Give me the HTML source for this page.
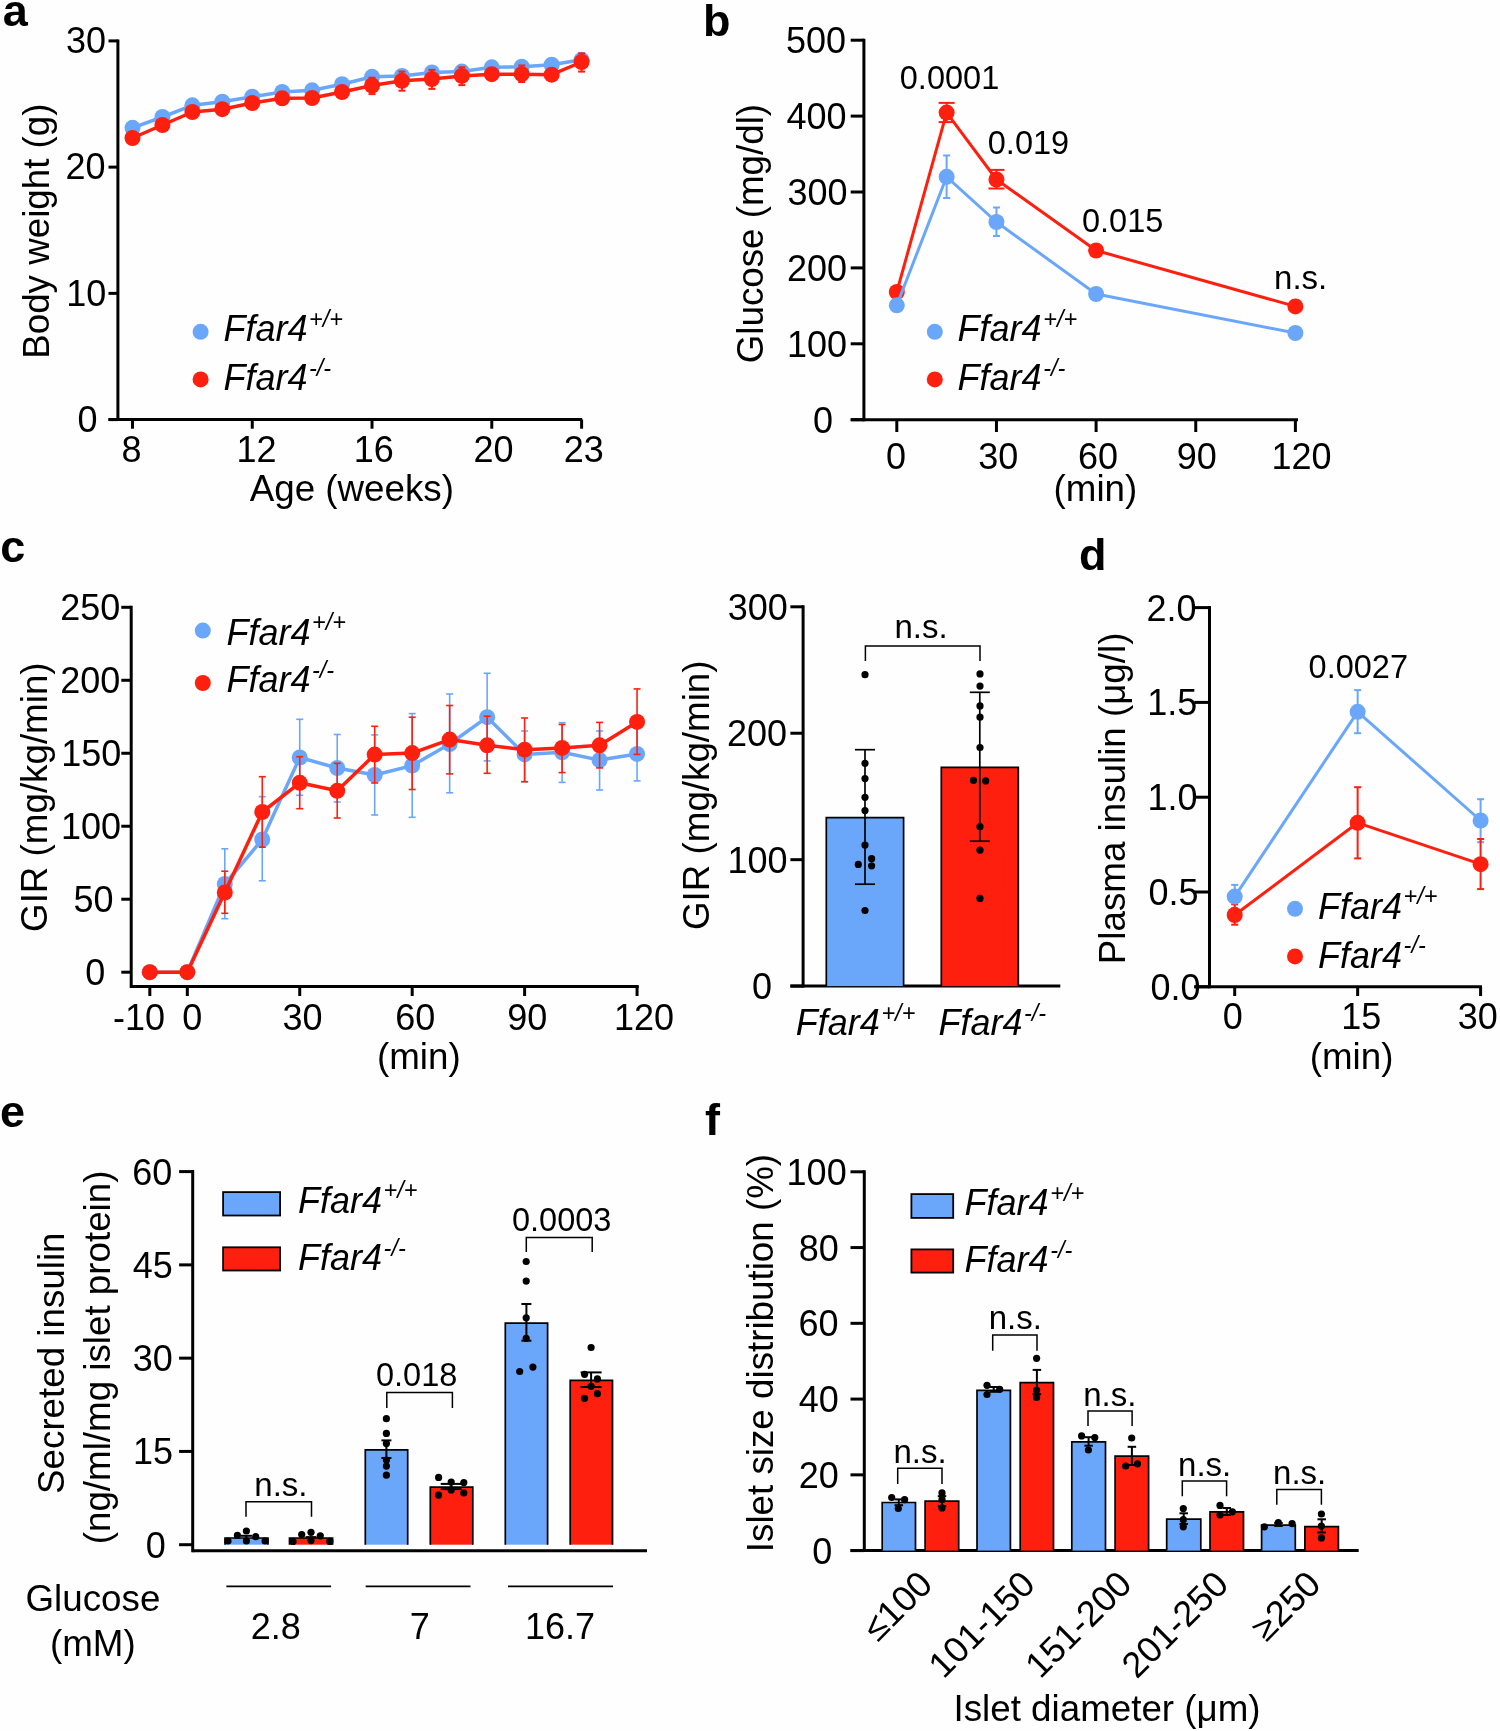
<!DOCTYPE html>
<html><head><meta charset="utf-8"><style>
html,body{margin:0;padding:0;background:#fff;}
svg{display:block;will-change:transform;}
text{font-family:"Liberation Sans", sans-serif;fill:#000;}
</style></head><body>
<svg width="1500" height="1731" viewBox="0 0 1500 1731">
<rect x="0" y="0" width="1500" height="1731" fill="#fefefe"/>
<text x="2.80" y="25.80" font-size="45" font-weight="bold">a</text>
<line x1="117.90" y1="39.40" x2="117.90" y2="421.10" stroke="#000" stroke-width="3"/>
<line x1="108.50" y1="419.60" x2="582.20" y2="419.60" stroke="#000" stroke-width="3"/>
<line x1="108.50" y1="419.60" x2="117.90" y2="419.60" stroke="#000" stroke-width="3"/>
<text x="77.40" y="431.80" font-size="36">0</text>
<line x1="108.50" y1="293.37" x2="117.90" y2="293.37" stroke="#000" stroke-width="3"/>
<text x="66.30" y="305.57" font-size="36">10</text>
<line x1="108.50" y1="167.13" x2="117.90" y2="167.13" stroke="#000" stroke-width="3"/>
<text x="65.40" y="179.33" font-size="36">20</text>
<line x1="108.50" y1="40.90" x2="117.90" y2="40.90" stroke="#000" stroke-width="3"/>
<text x="66.10" y="53.10" font-size="36">30</text>
<line x1="132.50" y1="419.60" x2="132.50" y2="428.70" stroke="#000" stroke-width="3"/>
<text x="121.40" y="462.30" font-size="36">8</text>
<line x1="252.26" y1="419.60" x2="252.26" y2="428.70" stroke="#000" stroke-width="3"/>
<text x="236.40" y="462.30" font-size="36">12</text>
<line x1="372.02" y1="419.60" x2="372.02" y2="428.70" stroke="#000" stroke-width="3"/>
<text x="353.80" y="462.30" font-size="36">16</text>
<line x1="491.78" y1="419.60" x2="491.78" y2="428.70" stroke="#000" stroke-width="3"/>
<text x="473.50" y="462.30" font-size="36">20</text>
<line x1="581.60" y1="419.60" x2="581.60" y2="428.70" stroke="#000" stroke-width="3"/>
<text x="563.80" y="462.30" font-size="36">23</text>
<text x="249.70" y="501.30" font-size="36.75">Age (weeks)</text>
<text x="0" y="0" font-size="36.75" transform="translate(48.50,358.80) rotate(-90)">Body weight (g)</text>
<polyline points="132.50,127.80 162.44,117.00 192.38,105.30 222.32,101.70 252.26,96.70 282.20,92.00 312.14,90.30 342.08,84.20 372.02,76.80 401.96,75.90 431.90,72.50 461.84,71.60 491.78,67.30 521.72,66.70 551.66,64.70 581.60,59.80" fill="none" stroke="#6aa7fa" stroke-width="3.5" stroke-linejoin="round"/>
<circle cx="132.50" cy="127.80" r="8" fill="#6aa7fa"/>
<circle cx="162.44" cy="117.00" r="8" fill="#6aa7fa"/>
<circle cx="192.38" cy="105.30" r="8" fill="#6aa7fa"/>
<circle cx="222.32" cy="101.70" r="8" fill="#6aa7fa"/>
<circle cx="252.26" cy="96.70" r="8" fill="#6aa7fa"/>
<circle cx="282.20" cy="92.00" r="8" fill="#6aa7fa"/>
<circle cx="312.14" cy="90.30" r="8" fill="#6aa7fa"/>
<circle cx="342.08" cy="84.20" r="8" fill="#6aa7fa"/>
<circle cx="372.02" cy="76.80" r="8" fill="#6aa7fa"/>
<circle cx="401.96" cy="75.90" r="8" fill="#6aa7fa"/>
<circle cx="431.90" cy="72.50" r="8" fill="#6aa7fa"/>
<circle cx="461.84" cy="71.60" r="8" fill="#6aa7fa"/>
<circle cx="491.78" cy="67.30" r="8" fill="#6aa7fa"/>
<circle cx="521.72" cy="66.70" r="8" fill="#6aa7fa"/>
<circle cx="551.66" cy="64.70" r="8" fill="#6aa7fa"/>
<circle cx="581.60" cy="59.80" r="8" fill="#6aa7fa"/>
<line x1="372.02" y1="77.70" x2="372.02" y2="94.10" stroke="#fe1f0f" stroke-width="2"/>
<line x1="368.52" y1="77.70" x2="375.52" y2="77.70" stroke="#fe1f0f" stroke-width="2"/>
<line x1="368.52" y1="94.10" x2="375.52" y2="94.10" stroke="#fe1f0f" stroke-width="2"/>
<line x1="401.96" y1="71.60" x2="401.96" y2="90.70" stroke="#fe1f0f" stroke-width="2"/>
<line x1="398.46" y1="71.60" x2="405.46" y2="71.60" stroke="#fe1f0f" stroke-width="2"/>
<line x1="398.46" y1="90.70" x2="405.46" y2="90.70" stroke="#fe1f0f" stroke-width="2"/>
<line x1="431.90" y1="69.90" x2="431.90" y2="88.90" stroke="#fe1f0f" stroke-width="2"/>
<line x1="428.40" y1="69.90" x2="435.40" y2="69.90" stroke="#fe1f0f" stroke-width="2"/>
<line x1="428.40" y1="88.90" x2="435.40" y2="88.90" stroke="#fe1f0f" stroke-width="2"/>
<line x1="461.84" y1="67.30" x2="461.84" y2="85.10" stroke="#fe1f0f" stroke-width="2"/>
<line x1="458.34" y1="67.30" x2="465.34" y2="67.30" stroke="#fe1f0f" stroke-width="2"/>
<line x1="458.34" y1="85.10" x2="465.34" y2="85.10" stroke="#fe1f0f" stroke-width="2"/>
<line x1="521.72" y1="65.50" x2="521.72" y2="82.00" stroke="#fe1f0f" stroke-width="2"/>
<line x1="518.22" y1="65.50" x2="525.22" y2="65.50" stroke="#fe1f0f" stroke-width="2"/>
<line x1="518.22" y1="82.00" x2="525.22" y2="82.00" stroke="#fe1f0f" stroke-width="2"/>
<line x1="581.60" y1="53.40" x2="581.60" y2="71.60" stroke="#fe1f0f" stroke-width="2"/>
<line x1="578.10" y1="53.40" x2="585.10" y2="53.40" stroke="#fe1f0f" stroke-width="2"/>
<line x1="578.10" y1="71.60" x2="585.10" y2="71.60" stroke="#fe1f0f" stroke-width="2"/>
<polyline points="132.50,138.00 162.44,125.00 192.38,112.00 222.32,109.20 252.26,103.00 282.20,98.30 312.14,98.00 342.08,92.00 372.02,85.50 401.96,80.80 431.90,79.00 461.84,75.90 491.78,74.20 521.72,74.20 551.66,74.70 581.60,62.00" fill="none" stroke="#fe1f0f" stroke-width="3.5" stroke-linejoin="round"/>
<circle cx="132.50" cy="138.00" r="8" fill="#fe1f0f"/>
<circle cx="162.44" cy="125.00" r="8" fill="#fe1f0f"/>
<circle cx="192.38" cy="112.00" r="8" fill="#fe1f0f"/>
<circle cx="222.32" cy="109.20" r="8" fill="#fe1f0f"/>
<circle cx="252.26" cy="103.00" r="8" fill="#fe1f0f"/>
<circle cx="282.20" cy="98.30" r="8" fill="#fe1f0f"/>
<circle cx="312.14" cy="98.00" r="8" fill="#fe1f0f"/>
<circle cx="342.08" cy="92.00" r="8" fill="#fe1f0f"/>
<circle cx="372.02" cy="85.50" r="8" fill="#fe1f0f"/>
<circle cx="401.96" cy="80.80" r="8" fill="#fe1f0f"/>
<circle cx="431.90" cy="79.00" r="8" fill="#fe1f0f"/>
<circle cx="461.84" cy="75.90" r="8" fill="#fe1f0f"/>
<circle cx="491.78" cy="74.20" r="8" fill="#fe1f0f"/>
<circle cx="521.72" cy="74.20" r="8" fill="#fe1f0f"/>
<circle cx="551.66" cy="74.70" r="8" fill="#fe1f0f"/>
<circle cx="581.60" cy="62.00" r="8" fill="#fe1f0f"/>
<circle cx="200.60" cy="331.80" r="8" fill="#6aa7fa"/>
<circle cx="200.60" cy="379.40" r="8" fill="#fe1f0f"/>
<text x="223.40" y="341.40" font-size="36" font-style="italic">Ffar4</text>
<text x="309.00" y="327.00" font-size="23.5" font-style="italic">+/+</text>
<text x="223.40" y="390.10" font-size="36" font-style="italic">Ffar4</text>
<text x="309.00" y="375.70" font-size="23.5" font-style="italic">-/-</text>
<text x="703.00" y="36.00" font-size="45" font-weight="bold">b</text>
<line x1="863.90" y1="38.70" x2="863.90" y2="421.20" stroke="#000" stroke-width="3"/>
<line x1="850.70" y1="419.70" x2="1298.00" y2="419.70" stroke="#000" stroke-width="3"/>
<line x1="850.70" y1="419.70" x2="863.90" y2="419.70" stroke="#000" stroke-width="3"/>
<text x="812.90" y="432.70" font-size="36">0</text>
<line x1="850.70" y1="343.80" x2="863.90" y2="343.80" stroke="#000" stroke-width="3"/>
<text x="787.00" y="356.80" font-size="36">100</text>
<line x1="850.70" y1="267.90" x2="863.90" y2="267.90" stroke="#000" stroke-width="3"/>
<text x="787.00" y="280.90" font-size="36">200</text>
<line x1="850.70" y1="192.00" x2="863.90" y2="192.00" stroke="#000" stroke-width="3"/>
<text x="787.50" y="205.00" font-size="36">300</text>
<line x1="850.70" y1="116.10" x2="863.90" y2="116.10" stroke="#000" stroke-width="3"/>
<text x="786.50" y="129.10" font-size="36">400</text>
<line x1="850.70" y1="40.20" x2="863.90" y2="40.20" stroke="#000" stroke-width="3"/>
<text x="786.00" y="53.20" font-size="36">500</text>
<line x1="896.80" y1="419.70" x2="896.80" y2="432.00" stroke="#000" stroke-width="3"/>
<text x="886.00" y="469.00" font-size="36">0</text>
<line x1="996.45" y1="419.70" x2="996.45" y2="432.00" stroke="#000" stroke-width="3"/>
<text x="978.20" y="469.00" font-size="36">30</text>
<line x1="1096.10" y1="419.70" x2="1096.10" y2="432.00" stroke="#000" stroke-width="3"/>
<text x="1078.00" y="469.00" font-size="36">60</text>
<line x1="1195.75" y1="419.70" x2="1195.75" y2="432.00" stroke="#000" stroke-width="3"/>
<text x="1176.70" y="469.00" font-size="36">90</text>
<line x1="1295.40" y1="419.70" x2="1295.40" y2="432.00" stroke="#000" stroke-width="3"/>
<text x="1271.40" y="469.00" font-size="36">120</text>
<text x="1053.60" y="501.30" font-size="36.75">(min)</text>
<text x="0" y="0" font-size="36.75" transform="translate(763.30,363.30) rotate(-90)">Glucose (mg/dl)</text>
<line x1="946.63" y1="155.50" x2="946.63" y2="198.00" stroke="#6aa7fa" stroke-width="2"/>
<line x1="943.13" y1="155.50" x2="950.13" y2="155.50" stroke="#6aa7fa" stroke-width="2"/>
<line x1="943.13" y1="198.00" x2="950.13" y2="198.00" stroke="#6aa7fa" stroke-width="2"/>
<line x1="996.45" y1="207.50" x2="996.45" y2="236.00" stroke="#6aa7fa" stroke-width="2"/>
<line x1="992.95" y1="207.50" x2="999.95" y2="207.50" stroke="#6aa7fa" stroke-width="2"/>
<line x1="992.95" y1="236.00" x2="999.95" y2="236.00" stroke="#6aa7fa" stroke-width="2"/>
<line x1="946.63" y1="102.90" x2="946.63" y2="122.10" stroke="#fe1f0f" stroke-width="2"/>
<line x1="938.63" y1="102.90" x2="954.63" y2="102.90" stroke="#fe1f0f" stroke-width="2"/>
<line x1="938.63" y1="122.10" x2="954.63" y2="122.10" stroke="#fe1f0f" stroke-width="2"/>
<line x1="996.45" y1="169.90" x2="996.45" y2="188.50" stroke="#fe1f0f" stroke-width="2"/>
<line x1="988.45" y1="169.90" x2="1004.45" y2="169.90" stroke="#fe1f0f" stroke-width="2"/>
<line x1="988.45" y1="188.50" x2="1004.45" y2="188.50" stroke="#fe1f0f" stroke-width="2"/>
<polyline points="896.80,292.00 946.63,112.60 996.45,179.50 1096.10,250.50 1295.40,306.40" fill="none" stroke="#fe1f0f" stroke-width="3" stroke-linejoin="round"/>
<circle cx="896.80" cy="292.00" r="8" fill="#fe1f0f"/>
<circle cx="946.63" cy="112.60" r="8" fill="#fe1f0f"/>
<circle cx="996.45" cy="179.50" r="8" fill="#fe1f0f"/>
<circle cx="1096.10" cy="250.50" r="8" fill="#fe1f0f"/>
<circle cx="1295.40" cy="306.40" r="8" fill="#fe1f0f"/>
<polyline points="896.80,305.30 946.63,176.80 996.45,222.00 1096.10,294.00 1295.40,333.00" fill="none" stroke="#6aa7fa" stroke-width="3" stroke-linejoin="round"/>
<circle cx="896.80" cy="305.30" r="8" fill="#6aa7fa"/>
<circle cx="946.63" cy="176.80" r="8" fill="#6aa7fa"/>
<circle cx="996.45" cy="222.00" r="8" fill="#6aa7fa"/>
<circle cx="1096.10" cy="294.00" r="8" fill="#6aa7fa"/>
<circle cx="1295.40" cy="333.00" r="8" fill="#6aa7fa"/>
<text x="899.80" y="89.20" font-size="32.5">0.0001</text>
<text x="987.80" y="154.40" font-size="32.5">0.019</text>
<text x="1082.00" y="232.40" font-size="32.5">0.015</text>
<text x="1274.10" y="288.60" font-size="33">n.s.</text>
<circle cx="934.80" cy="331.80" r="8" fill="#6aa7fa"/>
<circle cx="934.80" cy="379.40" r="8" fill="#fe1f0f"/>
<text x="957.60" y="341.40" font-size="36" font-style="italic">Ffar4</text>
<text x="1043.20" y="327.00" font-size="23.5" font-style="italic">+/+</text>
<text x="957.60" y="390.20" font-size="36" font-style="italic">Ffar4</text>
<text x="1043.20" y="375.80" font-size="23.5" font-style="italic">-/-</text>
<text x="0.20" y="562.20" font-size="45" font-weight="bold">c</text>
<line x1="131.20" y1="605.80" x2="131.20" y2="988.00" stroke="#000" stroke-width="3"/>
<line x1="131.20" y1="986.50" x2="638.70" y2="986.50" stroke="#000" stroke-width="3"/>
<line x1="121.30" y1="972.20" x2="131.20" y2="972.20" stroke="#000" stroke-width="3"/>
<text x="85.35" y="985.20" font-size="36">0</text>
<line x1="121.30" y1="899.22" x2="131.20" y2="899.22" stroke="#000" stroke-width="3"/>
<text x="73.40" y="912.22" font-size="36">50</text>
<line x1="121.30" y1="826.24" x2="131.20" y2="826.24" stroke="#000" stroke-width="3"/>
<text x="60.90" y="839.24" font-size="36">100</text>
<line x1="121.30" y1="753.26" x2="131.20" y2="753.26" stroke="#000" stroke-width="3"/>
<text x="61.20" y="766.26" font-size="36">150</text>
<line x1="121.30" y1="680.28" x2="131.20" y2="680.28" stroke="#000" stroke-width="3"/>
<text x="60.25" y="693.28" font-size="36">200</text>
<line x1="121.30" y1="607.30" x2="131.20" y2="607.30" stroke="#000" stroke-width="3"/>
<text x="60.25" y="620.30" font-size="36">250</text>
<line x1="149.82" y1="986.50" x2="149.82" y2="996.00" stroke="#000" stroke-width="3"/>
<text x="113.10" y="1029.90" font-size="36">-10</text>
<line x1="187.30" y1="986.50" x2="187.30" y2="996.00" stroke="#000" stroke-width="3"/>
<text x="182.30" y="1029.90" font-size="36">0</text>
<line x1="299.74" y1="986.50" x2="299.74" y2="996.00" stroke="#000" stroke-width="3"/>
<text x="282.40" y="1029.90" font-size="36">30</text>
<line x1="412.18" y1="986.50" x2="412.18" y2="996.00" stroke="#000" stroke-width="3"/>
<text x="395.30" y="1029.90" font-size="36">60</text>
<line x1="524.62" y1="986.50" x2="524.62" y2="996.00" stroke="#000" stroke-width="3"/>
<text x="507.20" y="1029.90" font-size="36">90</text>
<line x1="637.06" y1="986.50" x2="637.06" y2="996.00" stroke="#000" stroke-width="3"/>
<text x="614.00" y="1029.90" font-size="36">120</text>
<text x="377.00" y="1068.70" font-size="36.75">(min)</text>
<text x="0" y="0" font-size="36.75" transform="translate(47.20,931.95) rotate(-90)">GIR (mg/kg/min)</text>
<line x1="224.78" y1="848.80" x2="224.78" y2="918.70" stroke="#6aa7fa" stroke-width="1.6"/>
<line x1="221.28" y1="848.80" x2="228.28" y2="848.80" stroke="#6aa7fa" stroke-width="1.6"/>
<line x1="221.28" y1="918.70" x2="228.28" y2="918.70" stroke="#6aa7fa" stroke-width="1.6"/>
<line x1="262.26" y1="796.70" x2="262.26" y2="880.80" stroke="#6aa7fa" stroke-width="1.6"/>
<line x1="258.76" y1="796.70" x2="265.76" y2="796.70" stroke="#6aa7fa" stroke-width="1.6"/>
<line x1="258.76" y1="880.80" x2="265.76" y2="880.80" stroke="#6aa7fa" stroke-width="1.6"/>
<line x1="299.74" y1="719.30" x2="299.74" y2="795.30" stroke="#6aa7fa" stroke-width="1.6"/>
<line x1="296.24" y1="719.30" x2="303.24" y2="719.30" stroke="#6aa7fa" stroke-width="1.6"/>
<line x1="296.24" y1="795.30" x2="303.24" y2="795.30" stroke="#6aa7fa" stroke-width="1.6"/>
<line x1="337.22" y1="734.50" x2="337.22" y2="802.00" stroke="#6aa7fa" stroke-width="1.6"/>
<line x1="333.72" y1="734.50" x2="340.72" y2="734.50" stroke="#6aa7fa" stroke-width="1.6"/>
<line x1="333.72" y1="802.00" x2="340.72" y2="802.00" stroke="#6aa7fa" stroke-width="1.6"/>
<line x1="374.70" y1="734.90" x2="374.70" y2="815.00" stroke="#6aa7fa" stroke-width="1.6"/>
<line x1="371.20" y1="734.90" x2="378.20" y2="734.90" stroke="#6aa7fa" stroke-width="1.6"/>
<line x1="371.20" y1="815.00" x2="378.20" y2="815.00" stroke="#6aa7fa" stroke-width="1.6"/>
<line x1="412.18" y1="713.60" x2="412.18" y2="817.30" stroke="#6aa7fa" stroke-width="1.6"/>
<line x1="408.68" y1="713.60" x2="415.68" y2="713.60" stroke="#6aa7fa" stroke-width="1.6"/>
<line x1="408.68" y1="817.30" x2="415.68" y2="817.30" stroke="#6aa7fa" stroke-width="1.6"/>
<line x1="449.66" y1="694.00" x2="449.66" y2="792.80" stroke="#6aa7fa" stroke-width="1.6"/>
<line x1="446.16" y1="694.00" x2="453.16" y2="694.00" stroke="#6aa7fa" stroke-width="1.6"/>
<line x1="446.16" y1="792.80" x2="453.16" y2="792.80" stroke="#6aa7fa" stroke-width="1.6"/>
<line x1="487.14" y1="673.30" x2="487.14" y2="760.90" stroke="#6aa7fa" stroke-width="1.6"/>
<line x1="483.64" y1="673.30" x2="490.64" y2="673.30" stroke="#6aa7fa" stroke-width="1.6"/>
<line x1="483.64" y1="760.90" x2="490.64" y2="760.90" stroke="#6aa7fa" stroke-width="1.6"/>
<line x1="524.62" y1="731.00" x2="524.62" y2="781.70" stroke="#6aa7fa" stroke-width="1.6"/>
<line x1="521.12" y1="731.00" x2="528.12" y2="731.00" stroke="#6aa7fa" stroke-width="1.6"/>
<line x1="521.12" y1="781.70" x2="528.12" y2="781.70" stroke="#6aa7fa" stroke-width="1.6"/>
<line x1="562.10" y1="722.70" x2="562.10" y2="782.40" stroke="#6aa7fa" stroke-width="1.6"/>
<line x1="558.60" y1="722.70" x2="565.60" y2="722.70" stroke="#6aa7fa" stroke-width="1.6"/>
<line x1="558.60" y1="782.40" x2="565.60" y2="782.40" stroke="#6aa7fa" stroke-width="1.6"/>
<line x1="599.58" y1="731.00" x2="599.58" y2="790.00" stroke="#6aa7fa" stroke-width="1.6"/>
<line x1="596.08" y1="731.00" x2="603.08" y2="731.00" stroke="#6aa7fa" stroke-width="1.6"/>
<line x1="596.08" y1="790.00" x2="603.08" y2="790.00" stroke="#6aa7fa" stroke-width="1.6"/>
<line x1="637.06" y1="727.00" x2="637.06" y2="780.90" stroke="#6aa7fa" stroke-width="1.6"/>
<line x1="633.56" y1="727.00" x2="640.56" y2="727.00" stroke="#6aa7fa" stroke-width="1.6"/>
<line x1="633.56" y1="780.90" x2="640.56" y2="780.90" stroke="#6aa7fa" stroke-width="1.6"/>
<polyline points="149.82,972.20 187.30,972.20 224.78,884.00 262.26,839.50 299.74,757.50 337.22,768.00 374.70,775.00 412.18,765.60 449.66,744.00 487.14,717.20 524.62,754.40 562.10,752.30 599.58,760.10 637.06,753.90" fill="none" stroke="#6aa7fa" stroke-width="3.5" stroke-linejoin="round"/>
<circle cx="149.82" cy="972.20" r="8" fill="#6aa7fa"/>
<circle cx="187.30" cy="972.20" r="8" fill="#6aa7fa"/>
<circle cx="224.78" cy="884.00" r="8" fill="#6aa7fa"/>
<circle cx="262.26" cy="839.50" r="8" fill="#6aa7fa"/>
<circle cx="299.74" cy="757.50" r="8" fill="#6aa7fa"/>
<circle cx="337.22" cy="768.00" r="8" fill="#6aa7fa"/>
<circle cx="374.70" cy="775.00" r="8" fill="#6aa7fa"/>
<circle cx="412.18" cy="765.60" r="8" fill="#6aa7fa"/>
<circle cx="449.66" cy="744.00" r="8" fill="#6aa7fa"/>
<circle cx="487.14" cy="717.20" r="8" fill="#6aa7fa"/>
<circle cx="524.62" cy="754.40" r="8" fill="#6aa7fa"/>
<circle cx="562.10" cy="752.30" r="8" fill="#6aa7fa"/>
<circle cx="599.58" cy="760.10" r="8" fill="#6aa7fa"/>
<circle cx="637.06" cy="753.90" r="8" fill="#6aa7fa"/>
<line x1="224.78" y1="871.20" x2="224.78" y2="913.30" stroke="#fe1f0f" stroke-width="1.6"/>
<line x1="221.28" y1="871.20" x2="228.28" y2="871.20" stroke="#fe1f0f" stroke-width="1.6"/>
<line x1="221.28" y1="913.30" x2="228.28" y2="913.30" stroke="#fe1f0f" stroke-width="1.6"/>
<line x1="262.26" y1="776.70" x2="262.26" y2="847.20" stroke="#fe1f0f" stroke-width="1.6"/>
<line x1="258.76" y1="776.70" x2="265.76" y2="776.70" stroke="#fe1f0f" stroke-width="1.6"/>
<line x1="258.76" y1="847.20" x2="265.76" y2="847.20" stroke="#fe1f0f" stroke-width="1.6"/>
<line x1="299.74" y1="756.70" x2="299.74" y2="808.70" stroke="#fe1f0f" stroke-width="1.6"/>
<line x1="296.24" y1="756.70" x2="303.24" y2="756.70" stroke="#fe1f0f" stroke-width="1.6"/>
<line x1="296.24" y1="808.70" x2="303.24" y2="808.70" stroke="#fe1f0f" stroke-width="1.6"/>
<line x1="337.22" y1="763.30" x2="337.22" y2="818.00" stroke="#fe1f0f" stroke-width="1.6"/>
<line x1="333.72" y1="763.30" x2="340.72" y2="763.30" stroke="#fe1f0f" stroke-width="1.6"/>
<line x1="333.72" y1="818.00" x2="340.72" y2="818.00" stroke="#fe1f0f" stroke-width="1.6"/>
<line x1="374.70" y1="726.30" x2="374.70" y2="783.00" stroke="#fe1f0f" stroke-width="1.6"/>
<line x1="371.20" y1="726.30" x2="378.20" y2="726.30" stroke="#fe1f0f" stroke-width="1.6"/>
<line x1="371.20" y1="783.00" x2="378.20" y2="783.00" stroke="#fe1f0f" stroke-width="1.6"/>
<line x1="412.18" y1="717.20" x2="412.18" y2="789.50" stroke="#fe1f0f" stroke-width="1.6"/>
<line x1="408.68" y1="717.20" x2="415.68" y2="717.20" stroke="#fe1f0f" stroke-width="1.6"/>
<line x1="408.68" y1="789.50" x2="415.68" y2="789.50" stroke="#fe1f0f" stroke-width="1.6"/>
<line x1="449.66" y1="705.50" x2="449.66" y2="773.90" stroke="#fe1f0f" stroke-width="1.6"/>
<line x1="446.16" y1="705.50" x2="453.16" y2="705.50" stroke="#fe1f0f" stroke-width="1.6"/>
<line x1="446.16" y1="773.90" x2="453.16" y2="773.90" stroke="#fe1f0f" stroke-width="1.6"/>
<line x1="487.14" y1="716.20" x2="487.14" y2="773.30" stroke="#fe1f0f" stroke-width="1.6"/>
<line x1="483.64" y1="716.20" x2="490.64" y2="716.20" stroke="#fe1f0f" stroke-width="1.6"/>
<line x1="483.64" y1="773.30" x2="490.64" y2="773.30" stroke="#fe1f0f" stroke-width="1.6"/>
<line x1="524.62" y1="718.00" x2="524.62" y2="781.70" stroke="#fe1f0f" stroke-width="1.6"/>
<line x1="521.12" y1="718.00" x2="528.12" y2="718.00" stroke="#fe1f0f" stroke-width="1.6"/>
<line x1="521.12" y1="781.70" x2="528.12" y2="781.70" stroke="#fe1f0f" stroke-width="1.6"/>
<line x1="562.10" y1="724.50" x2="562.10" y2="772.60" stroke="#fe1f0f" stroke-width="1.6"/>
<line x1="558.60" y1="724.50" x2="565.60" y2="724.50" stroke="#fe1f0f" stroke-width="1.6"/>
<line x1="558.60" y1="772.60" x2="565.60" y2="772.60" stroke="#fe1f0f" stroke-width="1.6"/>
<line x1="599.58" y1="722.40" x2="599.58" y2="767.90" stroke="#fe1f0f" stroke-width="1.6"/>
<line x1="596.08" y1="722.40" x2="603.08" y2="722.40" stroke="#fe1f0f" stroke-width="1.6"/>
<line x1="596.08" y1="767.90" x2="603.08" y2="767.90" stroke="#fe1f0f" stroke-width="1.6"/>
<line x1="637.06" y1="688.90" x2="637.06" y2="754.40" stroke="#fe1f0f" stroke-width="1.6"/>
<line x1="633.56" y1="688.90" x2="640.56" y2="688.90" stroke="#fe1f0f" stroke-width="1.6"/>
<line x1="633.56" y1="754.40" x2="640.56" y2="754.40" stroke="#fe1f0f" stroke-width="1.6"/>
<polyline points="149.82,972.20 187.30,972.20 224.78,892.50 262.26,812.00 299.74,782.80 337.22,790.80 374.70,754.60 412.18,753.10 449.66,739.60 487.14,745.30 524.62,749.70 562.10,747.90 599.58,745.30 637.06,721.90" fill="none" stroke="#fe1f0f" stroke-width="3.5" stroke-linejoin="round"/>
<circle cx="149.82" cy="972.20" r="8" fill="#fe1f0f"/>
<circle cx="187.30" cy="972.20" r="8" fill="#fe1f0f"/>
<circle cx="224.78" cy="892.50" r="8" fill="#fe1f0f"/>
<circle cx="262.26" cy="812.00" r="8" fill="#fe1f0f"/>
<circle cx="299.74" cy="782.80" r="8" fill="#fe1f0f"/>
<circle cx="337.22" cy="790.80" r="8" fill="#fe1f0f"/>
<circle cx="374.70" cy="754.60" r="8" fill="#fe1f0f"/>
<circle cx="412.18" cy="753.10" r="8" fill="#fe1f0f"/>
<circle cx="449.66" cy="739.60" r="8" fill="#fe1f0f"/>
<circle cx="487.14" cy="745.30" r="8" fill="#fe1f0f"/>
<circle cx="524.62" cy="749.70" r="8" fill="#fe1f0f"/>
<circle cx="562.10" cy="747.90" r="8" fill="#fe1f0f"/>
<circle cx="599.58" cy="745.30" r="8" fill="#fe1f0f"/>
<circle cx="637.06" cy="721.90" r="8" fill="#fe1f0f"/>
<circle cx="202.80" cy="630.60" r="8" fill="#6aa7fa"/>
<circle cx="202.80" cy="683.00" r="8" fill="#fe1f0f"/>
<text x="226.40" y="644.60" font-size="36" font-style="italic">Ffar4</text>
<text x="312.00" y="630.20" font-size="23.5" font-style="italic">+/+</text>
<text x="226.40" y="692.40" font-size="36" font-style="italic">Ffar4</text>
<text x="312.00" y="678.00" font-size="23.5" font-style="italic">-/-</text>
<line x1="803.10" y1="605.30" x2="803.10" y2="987.60" stroke="#000" stroke-width="3"/>
<line x1="790.40" y1="986.10" x2="1060.30" y2="986.10" stroke="#000" stroke-width="3"/>
<line x1="790.40" y1="986.10" x2="803.10" y2="986.10" stroke="#000" stroke-width="3"/>
<text x="752.10" y="999.10" font-size="36">0</text>
<line x1="790.40" y1="859.67" x2="803.10" y2="859.67" stroke="#000" stroke-width="3"/>
<text x="727.50" y="872.67" font-size="36">100</text>
<line x1="790.40" y1="733.23" x2="803.10" y2="733.23" stroke="#000" stroke-width="3"/>
<text x="726.90" y="746.23" font-size="36">200</text>
<line x1="790.40" y1="606.80" x2="803.10" y2="606.80" stroke="#000" stroke-width="3"/>
<text x="727.70" y="619.80" font-size="36">300</text>
<text x="0" y="0" font-size="36.75" transform="translate(709.30,930.00) rotate(-90)">GIR (mg/kg/min)</text>
<rect x="826.30" y="817.70" width="77.30" height="168.40" fill="#6aa7fa"/>
<polyline points="826.30,986.10 826.30,817.70 903.60,817.70 903.60,986.10" fill="none" stroke="#000" stroke-width="1.7" stroke-linejoin="miter"/>
<rect x="941.30" y="767.30" width="77.00" height="218.80" fill="#fe1f0f"/>
<polyline points="941.30,986.10 941.30,767.30 1018.30,767.30 1018.30,986.10" fill="none" stroke="#000" stroke-width="1.7" stroke-linejoin="miter"/>
<line x1="865.00" y1="749.70" x2="865.00" y2="884.20" stroke="#000" stroke-width="1.7"/>
<line x1="855.00" y1="749.70" x2="875.00" y2="749.70" stroke="#000" stroke-width="1.7"/>
<line x1="855.00" y1="884.20" x2="875.00" y2="884.20" stroke="#000" stroke-width="1.7"/>
<line x1="979.80" y1="692.30" x2="979.80" y2="841.20" stroke="#000" stroke-width="1.7"/>
<line x1="969.80" y1="692.30" x2="989.80" y2="692.30" stroke="#000" stroke-width="1.7"/>
<line x1="969.80" y1="841.20" x2="989.80" y2="841.20" stroke="#000" stroke-width="1.7"/>
<circle cx="865.00" cy="674.70" r="3.6" fill="#000"/>
<circle cx="865.00" cy="763.30" r="3.6" fill="#000"/>
<circle cx="865.00" cy="778.60" r="3.6" fill="#000"/>
<circle cx="865.00" cy="797.30" r="3.6" fill="#000"/>
<circle cx="865.00" cy="810.60" r="3.6" fill="#000"/>
<circle cx="865.00" cy="845.10" r="3.6" fill="#000"/>
<circle cx="858.30" cy="864.40" r="3.6" fill="#000"/>
<circle cx="871.60" cy="858.70" r="3.6" fill="#000"/>
<circle cx="871.60" cy="865.80" r="3.6" fill="#000"/>
<circle cx="865.00" cy="910.50" r="3.6" fill="#000"/>
<circle cx="980.00" cy="673.90" r="3.6" fill="#000"/>
<circle cx="980.00" cy="686.10" r="3.6" fill="#000"/>
<circle cx="980.00" cy="705.90" r="3.6" fill="#000"/>
<circle cx="980.00" cy="717.20" r="3.6" fill="#000"/>
<circle cx="980.00" cy="747.50" r="3.6" fill="#000"/>
<circle cx="973.50" cy="780.30" r="3.6" fill="#000"/>
<circle cx="985.70" cy="780.90" r="3.6" fill="#000"/>
<circle cx="980.00" cy="826.70" r="3.6" fill="#000"/>
<circle cx="980.00" cy="850.20" r="3.6" fill="#000"/>
<circle cx="980.00" cy="898.40" r="3.6" fill="#000"/>
<polyline points="865.40,661.10 865.40,645.90 980.00,645.90 980.00,661.10" fill="none" stroke="#000" stroke-width="1.5" stroke-linejoin="miter"/>
<text x="894.50" y="638.00" font-size="33">n.s.</text>
<text x="795.80" y="1035.00" font-size="36" font-style="italic">Ffar4</text>
<text x="881.40" y="1020.60" font-size="23.5" font-style="italic">+/+</text>
<text x="938.40" y="1035.00" font-size="36" font-style="italic">Ffar4</text>
<text x="1024.00" y="1020.60" font-size="23.5" font-style="italic">-/-</text>
<text x="1079.00" y="570.30" font-size="45" font-weight="bold">d</text>
<line x1="1209.50" y1="606.10" x2="1209.50" y2="988.30" stroke="#000" stroke-width="3"/>
<line x1="1194.30" y1="986.80" x2="1482.00" y2="986.80" stroke="#000" stroke-width="3"/>
<line x1="1194.30" y1="986.80" x2="1209.50" y2="986.80" stroke="#000" stroke-width="3"/>
<text x="1150.50" y="999.80" font-size="36">0.0</text>
<line x1="1194.30" y1="892.00" x2="1209.50" y2="892.00" stroke="#000" stroke-width="3"/>
<text x="1148.50" y="905.00" font-size="36">0.5</text>
<line x1="1194.30" y1="797.20" x2="1209.50" y2="797.20" stroke="#000" stroke-width="3"/>
<text x="1147.50" y="810.20" font-size="36">1.0</text>
<line x1="1194.30" y1="702.40" x2="1209.50" y2="702.40" stroke="#000" stroke-width="3"/>
<text x="1147.20" y="715.40" font-size="36">1.5</text>
<line x1="1194.30" y1="607.60" x2="1209.50" y2="607.60" stroke="#000" stroke-width="3"/>
<text x="1146.50" y="620.60" font-size="36">2.0</text>
<line x1="1234.70" y1="986.80" x2="1234.70" y2="996.00" stroke="#000" stroke-width="3"/>
<text x="1222.80" y="1029.40" font-size="36">0</text>
<line x1="1357.65" y1="986.80" x2="1357.65" y2="996.00" stroke="#000" stroke-width="3"/>
<text x="1341.20" y="1029.40" font-size="36">15</text>
<line x1="1480.60" y1="986.80" x2="1480.60" y2="996.00" stroke="#000" stroke-width="3"/>
<text x="1457.80" y="1029.40" font-size="36">30</text>
<text x="1309.70" y="1068.70" font-size="36.75">(min)</text>
<text x="0" y="0" font-size="36.75" transform="translate(1125.40,964.20) rotate(-90)">Plasma insulin (μg/l)</text>
<line x1="1234.70" y1="884.90" x2="1234.70" y2="908.00" stroke="#6aa7fa" stroke-width="2"/>
<line x1="1231.20" y1="884.90" x2="1238.20" y2="884.90" stroke="#6aa7fa" stroke-width="2"/>
<line x1="1231.20" y1="908.00" x2="1238.20" y2="908.00" stroke="#6aa7fa" stroke-width="2"/>
<line x1="1357.65" y1="690.10" x2="1357.65" y2="733.20" stroke="#6aa7fa" stroke-width="2"/>
<line x1="1354.15" y1="690.10" x2="1361.15" y2="690.10" stroke="#6aa7fa" stroke-width="2"/>
<line x1="1354.15" y1="733.20" x2="1361.15" y2="733.20" stroke="#6aa7fa" stroke-width="2"/>
<line x1="1480.60" y1="799.20" x2="1480.60" y2="842.20" stroke="#6aa7fa" stroke-width="2"/>
<line x1="1477.10" y1="799.20" x2="1484.10" y2="799.20" stroke="#6aa7fa" stroke-width="2"/>
<line x1="1477.10" y1="842.20" x2="1484.10" y2="842.20" stroke="#6aa7fa" stroke-width="2"/>
<line x1="1234.70" y1="904.30" x2="1234.70" y2="924.70" stroke="#fe1f0f" stroke-width="2"/>
<line x1="1231.20" y1="904.30" x2="1238.20" y2="904.30" stroke="#fe1f0f" stroke-width="2"/>
<line x1="1231.20" y1="924.70" x2="1238.20" y2="924.70" stroke="#fe1f0f" stroke-width="2"/>
<line x1="1357.65" y1="787.20" x2="1357.65" y2="858.40" stroke="#fe1f0f" stroke-width="2"/>
<line x1="1354.15" y1="787.20" x2="1361.15" y2="787.20" stroke="#fe1f0f" stroke-width="2"/>
<line x1="1354.15" y1="858.40" x2="1361.15" y2="858.40" stroke="#fe1f0f" stroke-width="2"/>
<line x1="1480.60" y1="839.00" x2="1480.60" y2="889.10" stroke="#fe1f0f" stroke-width="2"/>
<line x1="1477.10" y1="839.00" x2="1484.10" y2="839.00" stroke="#fe1f0f" stroke-width="2"/>
<line x1="1477.10" y1="889.10" x2="1484.10" y2="889.10" stroke="#fe1f0f" stroke-width="2"/>
<polyline points="1234.70,896.60 1357.65,711.80 1480.60,820.50" fill="none" stroke="#6aa7fa" stroke-width="3" stroke-linejoin="round"/>
<circle cx="1234.70" cy="896.60" r="8" fill="#6aa7fa"/>
<circle cx="1357.65" cy="711.80" r="8" fill="#6aa7fa"/>
<circle cx="1480.60" cy="820.50" r="8" fill="#6aa7fa"/>
<polyline points="1234.70,915.00 1357.65,822.80 1480.60,864.20" fill="none" stroke="#fe1f0f" stroke-width="3" stroke-linejoin="round"/>
<circle cx="1234.70" cy="915.00" r="8" fill="#fe1f0f"/>
<circle cx="1357.65" cy="822.80" r="8" fill="#fe1f0f"/>
<circle cx="1480.60" cy="864.20" r="8" fill="#fe1f0f"/>
<text x="1308.60" y="677.60" font-size="32.5">0.0027</text>
<circle cx="1295.00" cy="908.80" r="8" fill="#6aa7fa"/>
<circle cx="1295.00" cy="956.40" r="8" fill="#fe1f0f"/>
<text x="1318.00" y="918.60" font-size="36" font-style="italic">Ffar4</text>
<text x="1403.60" y="904.20" font-size="23.5" font-style="italic">+/+</text>
<text x="1318.00" y="967.60" font-size="36" font-style="italic">Ffar4</text>
<text x="1403.60" y="953.20" font-size="23.5" font-style="italic">-/-</text>
<text x="0.10" y="1126.50" font-size="45" font-weight="bold">e</text>
<line x1="192.70" y1="1170.10" x2="192.70" y2="1552.30" stroke="#000" stroke-width="3"/>
<line x1="192.70" y1="1550.80" x2="647.00" y2="1550.80" stroke="#000" stroke-width="3"/>
<line x1="179.10" y1="1544.70" x2="192.70" y2="1544.70" stroke="#000" stroke-width="3"/>
<text x="145.75" y="1557.70" font-size="36">0</text>
<line x1="179.10" y1="1451.42" x2="192.70" y2="1451.42" stroke="#000" stroke-width="3"/>
<text x="133.00" y="1464.42" font-size="36">15</text>
<line x1="179.10" y1="1358.15" x2="192.70" y2="1358.15" stroke="#000" stroke-width="3"/>
<text x="132.80" y="1371.15" font-size="36">30</text>
<line x1="179.10" y1="1264.88" x2="192.70" y2="1264.88" stroke="#000" stroke-width="3"/>
<text x="132.80" y="1277.88" font-size="36">45</text>
<line x1="179.10" y1="1171.60" x2="192.70" y2="1171.60" stroke="#000" stroke-width="3"/>
<text x="132.30" y="1184.60" font-size="36">60</text>
<text x="0" y="0" font-size="36.75" transform="translate(63.90,1493.95) rotate(-90)">Secreted insulin</text>
<text x="0" y="0" font-size="36.75" transform="translate(109.80,1544.30) rotate(-90)">(ng/ml/mg islet protein)</text>
<rect x="225.00" y="1538.00" width="43.00" height="6.70" fill="#6aa7fa"/>
<polyline points="225.00,1544.70 225.00,1538.00 268.00,1538.00 268.00,1544.70" fill="none" stroke="#000" stroke-width="1.7" stroke-linejoin="miter"/>
<rect x="289.50" y="1538.00" width="43.10" height="6.70" fill="#fe1f0f"/>
<polyline points="289.50,1544.70 289.50,1538.00 332.60,1538.00 332.60,1544.70" fill="none" stroke="#000" stroke-width="1.7" stroke-linejoin="miter"/>
<rect x="365.30" y="1449.90" width="42.40" height="94.80" fill="#6aa7fa"/>
<polyline points="365.30,1544.70 365.30,1449.90 407.70,1449.90 407.70,1544.70" fill="none" stroke="#000" stroke-width="1.7" stroke-linejoin="miter"/>
<rect x="430.30" y="1487.10" width="42.50" height="57.60" fill="#fe1f0f"/>
<polyline points="430.30,1544.70 430.30,1487.10 472.80,1487.10 472.80,1544.70" fill="none" stroke="#000" stroke-width="1.7" stroke-linejoin="miter"/>
<rect x="505.30" y="1323.10" width="42.30" height="221.60" fill="#6aa7fa"/>
<polyline points="505.30,1544.70 505.30,1323.10 547.60,1323.10 547.60,1544.70" fill="none" stroke="#000" stroke-width="1.7" stroke-linejoin="miter"/>
<rect x="570.20" y="1380.30" width="42.30" height="164.40" fill="#fe1f0f"/>
<polyline points="570.20,1544.70 570.20,1380.30 612.50,1380.30 612.50,1544.70" fill="none" stroke="#000" stroke-width="1.7" stroke-linejoin="miter"/>
<line x1="386.40" y1="1440.40" x2="386.40" y2="1458.00" stroke="#000" stroke-width="2"/>
<line x1="381.40" y1="1440.40" x2="391.40" y2="1440.40" stroke="#000" stroke-width="2"/>
<line x1="381.40" y1="1458.00" x2="391.40" y2="1458.00" stroke="#000" stroke-width="2"/>
<line x1="451.20" y1="1483.90" x2="451.20" y2="1489.10" stroke="#000" stroke-width="2"/>
<line x1="440.70" y1="1483.90" x2="461.70" y2="1483.90" stroke="#000" stroke-width="2"/>
<line x1="440.70" y1="1489.10" x2="461.70" y2="1489.10" stroke="#000" stroke-width="2"/>
<line x1="526.40" y1="1304.00" x2="526.40" y2="1340.70" stroke="#000" stroke-width="2"/>
<line x1="521.40" y1="1304.00" x2="531.40" y2="1304.00" stroke="#000" stroke-width="2"/>
<line x1="521.40" y1="1340.70" x2="531.40" y2="1340.70" stroke="#000" stroke-width="2"/>
<line x1="591.10" y1="1372.40" x2="591.10" y2="1387.00" stroke="#000" stroke-width="2"/>
<line x1="580.60" y1="1372.40" x2="601.60" y2="1372.40" stroke="#000" stroke-width="2"/>
<line x1="580.60" y1="1387.00" x2="601.60" y2="1387.00" stroke="#000" stroke-width="2"/>
<line x1="246.40" y1="1535.80" x2="246.40" y2="1541.00" stroke="#000" stroke-width="2"/>
<line x1="241.00" y1="1535.80" x2="252.00" y2="1535.80" stroke="#000" stroke-width="2"/>
<line x1="311.00" y1="1537.10" x2="311.00" y2="1541.00" stroke="#000" stroke-width="2"/>
<line x1="305.50" y1="1537.10" x2="316.50" y2="1537.10" stroke="#000" stroke-width="2"/>
<circle cx="246.40" cy="1531.00" r="3.6" fill="#000"/>
<circle cx="237.40" cy="1535.40" r="3.6" fill="#000"/>
<circle cx="255.70" cy="1536.70" r="3.6" fill="#000"/>
<circle cx="246.40" cy="1541.00" r="3.6" fill="#000"/>
<circle cx="228.00" cy="1541.00" r="3.6" fill="#000"/>
<circle cx="265.10" cy="1541.00" r="3.6" fill="#000"/>
<circle cx="301.70" cy="1534.50" r="3.6" fill="#000"/>
<circle cx="311.00" cy="1532.30" r="3.6" fill="#000"/>
<circle cx="320.30" cy="1535.80" r="3.6" fill="#000"/>
<circle cx="311.00" cy="1540.60" r="3.6" fill="#000"/>
<circle cx="293.00" cy="1541.40" r="3.6" fill="#000"/>
<circle cx="329.80" cy="1541.40" r="3.6" fill="#000"/>
<circle cx="386.40" cy="1418.70" r="3.6" fill="#000"/>
<circle cx="386.40" cy="1433.40" r="3.6" fill="#000"/>
<circle cx="386.40" cy="1443.60" r="3.6" fill="#000"/>
<circle cx="386.40" cy="1460.00" r="3.6" fill="#000"/>
<circle cx="386.40" cy="1466.10" r="3.6" fill="#000"/>
<circle cx="386.40" cy="1475.20" r="3.6" fill="#000"/>
<circle cx="438.60" cy="1477.40" r="3.6" fill="#000"/>
<circle cx="451.20" cy="1482.10" r="3.6" fill="#000"/>
<circle cx="463.80" cy="1482.60" r="3.6" fill="#000"/>
<circle cx="438.60" cy="1495.10" r="3.6" fill="#000"/>
<circle cx="451.20" cy="1489.90" r="3.6" fill="#000"/>
<circle cx="463.80" cy="1493.00" r="3.6" fill="#000"/>
<circle cx="526.20" cy="1261.50" r="3.6" fill="#000"/>
<circle cx="526.20" cy="1281.10" r="3.6" fill="#000"/>
<circle cx="526.20" cy="1317.80" r="3.6" fill="#000"/>
<circle cx="526.20" cy="1338.30" r="3.6" fill="#000"/>
<circle cx="519.70" cy="1371.50" r="3.6" fill="#000"/>
<circle cx="532.90" cy="1367.10" r="3.6" fill="#000"/>
<circle cx="591.10" cy="1347.50" r="3.6" fill="#000"/>
<circle cx="584.60" cy="1374.30" r="3.6" fill="#000"/>
<circle cx="597.40" cy="1378.90" r="3.6" fill="#000"/>
<circle cx="591.10" cy="1386.30" r="3.6" fill="#000"/>
<circle cx="597.40" cy="1393.70" r="3.6" fill="#000"/>
<circle cx="584.60" cy="1398.30" r="3.6" fill="#000"/>
<polyline points="246.00,1516.70 246.00,1501.80 311.50,1501.80 311.50,1516.70" fill="none" stroke="#000" stroke-width="1.5" stroke-linejoin="miter"/>
<text x="254.30" y="1496.20" font-size="33">n.s.</text>
<polyline points="386.80,1407.90 386.80,1392.60 452.40,1392.60 452.40,1407.90" fill="none" stroke="#000" stroke-width="1.5" stroke-linejoin="miter"/>
<text x="376.00" y="1386.10" font-size="32.5">0.018</text>
<polyline points="526.30,1252.00 526.30,1237.50 592.20,1237.50 592.20,1252.00" fill="none" stroke="#000" stroke-width="1.5" stroke-linejoin="miter"/>
<text x="512.00" y="1230.80" font-size="32.5">0.0003</text>
<line x1="226.40" y1="1586.30" x2="331.10" y2="1586.30" stroke="#000" stroke-width="1.8"/>
<line x1="365.70" y1="1586.30" x2="470.50" y2="1586.30" stroke="#000" stroke-width="1.8"/>
<line x1="508.00" y1="1586.30" x2="613.00" y2="1586.30" stroke="#000" stroke-width="1.8"/>
<text x="250.80" y="1639.10" font-size="36">2.8</text>
<text x="409.70" y="1639.10" font-size="36">7</text>
<text x="525.00" y="1639.10" font-size="36">16.7</text>
<text x="25.50" y="1610.50" font-size="36.75">Glucose</text>
<text x="50.00" y="1655.50" font-size="36.75">(mM)</text>
<rect x="223.10" y="1192.10" width="57.00" height="23.40" fill="#6aa7fa" stroke="#000" stroke-width="1.8"/>
<rect x="223.10" y="1247.30" width="57.00" height="23.20" fill="#fe1f0f" stroke="#000" stroke-width="1.8"/>
<text x="298.00" y="1212.70" font-size="36" font-style="italic">Ffar4</text>
<text x="383.60" y="1198.30" font-size="23.5" font-style="italic">+/+</text>
<text x="298.00" y="1270.10" font-size="36" font-style="italic">Ffar4</text>
<text x="383.60" y="1255.70" font-size="23.5" font-style="italic">-/-</text>
<text x="705.10" y="1134.50" font-size="45" font-weight="bold">f</text>
<line x1="864.30" y1="1170.30" x2="864.30" y2="1552.10" stroke="#000" stroke-width="3"/>
<line x1="850.50" y1="1550.60" x2="1358.70" y2="1550.60" stroke="#000" stroke-width="3"/>
<line x1="850.50" y1="1550.60" x2="864.30" y2="1550.60" stroke="#000" stroke-width="3"/>
<text x="812.20" y="1563.60" font-size="36">0</text>
<line x1="850.50" y1="1474.84" x2="864.30" y2="1474.84" stroke="#000" stroke-width="3"/>
<text x="798.80" y="1487.84" font-size="36">20</text>
<line x1="850.50" y1="1399.08" x2="864.30" y2="1399.08" stroke="#000" stroke-width="3"/>
<text x="798.70" y="1412.08" font-size="36">40</text>
<line x1="850.50" y1="1323.32" x2="864.30" y2="1323.32" stroke="#000" stroke-width="3"/>
<text x="798.50" y="1336.32" font-size="36">60</text>
<line x1="850.50" y1="1247.56" x2="864.30" y2="1247.56" stroke="#000" stroke-width="3"/>
<text x="798.85" y="1260.56" font-size="36">80</text>
<line x1="850.50" y1="1171.80" x2="864.30" y2="1171.80" stroke="#000" stroke-width="3"/>
<text x="786.60" y="1184.80" font-size="36">100</text>
<text x="0" y="0" font-size="36.75" transform="translate(772.80,1552.15) rotate(-90)">Islet size distribution (%)</text>
<rect x="882.20" y="1502.50" width="33.30" height="48.10" fill="#6aa7fa"/>
<polyline points="882.20,1550.60 882.20,1502.50 915.50,1502.50 915.50,1550.60" fill="none" stroke="#000" stroke-width="1.7" stroke-linejoin="miter"/>
<rect x="925.10" y="1501.10" width="33.60" height="49.50" fill="#fe1f0f"/>
<polyline points="925.10,1550.60 925.10,1501.10 958.70,1501.10 958.70,1550.60" fill="none" stroke="#000" stroke-width="1.7" stroke-linejoin="miter"/>
<rect x="977.00" y="1390.40" width="33.40" height="160.20" fill="#6aa7fa"/>
<polyline points="977.00,1550.60 977.00,1390.40 1010.40,1390.40 1010.40,1550.60" fill="none" stroke="#000" stroke-width="1.7" stroke-linejoin="miter"/>
<rect x="1020.20" y="1382.70" width="33.30" height="167.90" fill="#fe1f0f"/>
<polyline points="1020.20,1550.60 1020.20,1382.70 1053.50,1382.70 1053.50,1550.60" fill="none" stroke="#000" stroke-width="1.7" stroke-linejoin="miter"/>
<rect x="1071.80" y="1441.90" width="33.70" height="108.70" fill="#6aa7fa"/>
<polyline points="1071.80,1550.60 1071.80,1441.90 1105.50,1441.90 1105.50,1550.60" fill="none" stroke="#000" stroke-width="1.7" stroke-linejoin="miter"/>
<rect x="1115.10" y="1456.20" width="33.50" height="94.40" fill="#fe1f0f"/>
<polyline points="1115.10,1550.60 1115.10,1456.20 1148.60,1456.20 1148.60,1550.60" fill="none" stroke="#000" stroke-width="1.7" stroke-linejoin="miter"/>
<rect x="1166.70" y="1519.10" width="34.10" height="31.50" fill="#6aa7fa"/>
<polyline points="1166.70,1550.60 1166.70,1519.10 1200.80,1519.10 1200.80,1550.60" fill="none" stroke="#000" stroke-width="1.7" stroke-linejoin="miter"/>
<rect x="1210.00" y="1511.80" width="33.50" height="38.80" fill="#fe1f0f"/>
<polyline points="1210.00,1550.60 1210.00,1511.80 1243.50,1511.80 1243.50,1550.60" fill="none" stroke="#000" stroke-width="1.7" stroke-linejoin="miter"/>
<rect x="1261.60" y="1525.10" width="33.70" height="25.50" fill="#6aa7fa"/>
<polyline points="1261.60,1550.60 1261.60,1525.10 1295.30,1525.10 1295.30,1550.60" fill="none" stroke="#000" stroke-width="1.7" stroke-linejoin="miter"/>
<rect x="1304.90" y="1526.60" width="33.50" height="24.00" fill="#fe1f0f"/>
<polyline points="1304.90,1550.60 1304.90,1526.60 1338.40,1526.60 1338.40,1550.60" fill="none" stroke="#000" stroke-width="1.7" stroke-linejoin="miter"/>
<line x1="898.80" y1="1499.40" x2="898.80" y2="1505.20" stroke="#000" stroke-width="2"/>
<line x1="894.55" y1="1499.40" x2="903.05" y2="1499.40" stroke="#000" stroke-width="2"/>
<line x1="894.55" y1="1505.20" x2="903.05" y2="1505.20" stroke="#000" stroke-width="2"/>
<line x1="942.00" y1="1496.20" x2="942.00" y2="1506.00" stroke="#000" stroke-width="2"/>
<line x1="937.75" y1="1496.20" x2="946.25" y2="1496.20" stroke="#000" stroke-width="2"/>
<line x1="937.75" y1="1506.00" x2="946.25" y2="1506.00" stroke="#000" stroke-width="2"/>
<line x1="993.70" y1="1387.00" x2="993.70" y2="1391.80" stroke="#000" stroke-width="2"/>
<line x1="989.45" y1="1387.00" x2="997.95" y2="1387.00" stroke="#000" stroke-width="2"/>
<line x1="989.45" y1="1391.80" x2="997.95" y2="1391.80" stroke="#000" stroke-width="2"/>
<line x1="1036.90" y1="1369.90" x2="1036.90" y2="1394.20" stroke="#000" stroke-width="2"/>
<line x1="1032.65" y1="1369.90" x2="1041.15" y2="1369.90" stroke="#000" stroke-width="2"/>
<line x1="1032.65" y1="1394.20" x2="1041.15" y2="1394.20" stroke="#000" stroke-width="2"/>
<line x1="1088.60" y1="1437.20" x2="1088.60" y2="1445.70" stroke="#000" stroke-width="2"/>
<line x1="1084.35" y1="1437.20" x2="1092.85" y2="1437.20" stroke="#000" stroke-width="2"/>
<line x1="1084.35" y1="1445.70" x2="1092.85" y2="1445.70" stroke="#000" stroke-width="2"/>
<line x1="1131.90" y1="1446.80" x2="1131.90" y2="1465.00" stroke="#000" stroke-width="2"/>
<line x1="1127.65" y1="1446.80" x2="1136.15" y2="1446.80" stroke="#000" stroke-width="2"/>
<line x1="1127.65" y1="1465.00" x2="1136.15" y2="1465.00" stroke="#000" stroke-width="2"/>
<line x1="1183.70" y1="1513.30" x2="1183.70" y2="1524.00" stroke="#000" stroke-width="2"/>
<line x1="1179.45" y1="1513.30" x2="1187.95" y2="1513.30" stroke="#000" stroke-width="2"/>
<line x1="1179.45" y1="1524.00" x2="1187.95" y2="1524.00" stroke="#000" stroke-width="2"/>
<line x1="1226.80" y1="1508.00" x2="1226.80" y2="1515.00" stroke="#000" stroke-width="2"/>
<line x1="1222.55" y1="1508.00" x2="1231.05" y2="1508.00" stroke="#000" stroke-width="2"/>
<line x1="1222.55" y1="1515.00" x2="1231.05" y2="1515.00" stroke="#000" stroke-width="2"/>
<line x1="1278.50" y1="1523.00" x2="1278.50" y2="1526.00" stroke="#000" stroke-width="2"/>
<line x1="1274.25" y1="1523.00" x2="1282.75" y2="1523.00" stroke="#000" stroke-width="2"/>
<line x1="1274.25" y1="1526.00" x2="1282.75" y2="1526.00" stroke="#000" stroke-width="2"/>
<line x1="1321.70" y1="1519.30" x2="1321.70" y2="1532.50" stroke="#000" stroke-width="2"/>
<line x1="1317.45" y1="1519.30" x2="1325.95" y2="1519.30" stroke="#000" stroke-width="2"/>
<line x1="1317.45" y1="1532.50" x2="1325.95" y2="1532.50" stroke="#000" stroke-width="2"/>
<circle cx="891.70" cy="1497.50" r="3.6" fill="#000"/>
<circle cx="904.60" cy="1499.70" r="3.6" fill="#000"/>
<circle cx="898.30" cy="1508.50" r="3.6" fill="#000"/>
<circle cx="942.00" cy="1492.90" r="3.6" fill="#000"/>
<circle cx="942.00" cy="1499.70" r="3.6" fill="#000"/>
<circle cx="942.00" cy="1507.90" r="3.6" fill="#000"/>
<circle cx="987.00" cy="1385.30" r="3.6" fill="#000"/>
<circle cx="999.70" cy="1389.30" r="3.6" fill="#000"/>
<circle cx="987.00" cy="1394.50" r="3.6" fill="#000"/>
<circle cx="1036.60" cy="1358.30" r="3.6" fill="#000"/>
<circle cx="1036.60" cy="1390.30" r="3.6" fill="#000"/>
<circle cx="1036.60" cy="1397.50" r="3.6" fill="#000"/>
<circle cx="1081.60" cy="1435.90" r="3.6" fill="#000"/>
<circle cx="1094.80" cy="1437.60" r="3.6" fill="#000"/>
<circle cx="1088.40" cy="1450.00" r="3.6" fill="#000"/>
<circle cx="1131.70" cy="1438.00" r="3.6" fill="#000"/>
<circle cx="1125.70" cy="1466.00" r="3.6" fill="#000"/>
<circle cx="1137.50" cy="1463.80" r="3.6" fill="#000"/>
<circle cx="1183.30" cy="1508.60" r="3.6" fill="#000"/>
<circle cx="1183.30" cy="1519.70" r="3.6" fill="#000"/>
<circle cx="1183.30" cy="1526.80" r="3.6" fill="#000"/>
<circle cx="1220.00" cy="1505.40" r="3.6" fill="#000"/>
<circle cx="1232.40" cy="1511.80" r="3.6" fill="#000"/>
<circle cx="1220.00" cy="1515.00" r="3.6" fill="#000"/>
<circle cx="1264.40" cy="1526.80" r="3.6" fill="#000"/>
<circle cx="1278.30" cy="1522.50" r="3.6" fill="#000"/>
<circle cx="1292.10" cy="1523.60" r="3.6" fill="#000"/>
<circle cx="1321.40" cy="1514.00" r="3.6" fill="#000"/>
<circle cx="1321.40" cy="1526.10" r="3.6" fill="#000"/>
<circle cx="1321.40" cy="1537.90" r="3.6" fill="#000"/>
<polyline points="897.70,1483.90 897.70,1468.30 942.00,1468.30 942.00,1483.90" fill="none" stroke="#000" stroke-width="1.5" stroke-linejoin="miter"/>
<text x="893.50" y="1462.50" font-size="33">n.s.</text>
<polyline points="992.70,1350.70 992.70,1334.90 1037.00,1334.90 1037.00,1350.70" fill="none" stroke="#000" stroke-width="1.5" stroke-linejoin="miter"/>
<text x="988.70" y="1329.10" font-size="33">n.s.</text>
<polyline points="1088.00,1425.90 1088.00,1410.90 1132.10,1410.90 1132.10,1425.90" fill="none" stroke="#000" stroke-width="1.5" stroke-linejoin="miter"/>
<text x="1083.20" y="1405.60" font-size="33">n.s.</text>
<polyline points="1182.30,1496.30 1182.30,1480.90 1226.60,1480.90 1226.60,1496.30" fill="none" stroke="#000" stroke-width="1.5" stroke-linejoin="miter"/>
<text x="1178.10" y="1475.60" font-size="33">n.s.</text>
<polyline points="1276.80,1504.80 1276.80,1489.40 1321.40,1489.40 1321.40,1504.80" fill="none" stroke="#000" stroke-width="1.5" stroke-linejoin="miter"/>
<text x="1273.10" y="1484.10" font-size="33">n.s.</text>
<text x="0" y="0" font-size="36" text-anchor="end" transform="translate(934.30,1586.30) rotate(-45)">≤100</text>
<text x="0" y="0" font-size="36" text-anchor="end" transform="translate(1037.00,1586.30) rotate(-45)">101-150</text>
<text x="0" y="0" font-size="36" text-anchor="end" transform="translate(1133.70,1586.30) rotate(-45)">151-200</text>
<text x="0" y="0" font-size="36" text-anchor="end" transform="translate(1230.30,1586.30) rotate(-45)">201-250</text>
<text x="0" y="0" font-size="36" text-anchor="end" transform="translate(1322.70,1586.30) rotate(-45)">≥250</text>
<text x="953.50" y="1720.70" font-size="36.75">Islet diameter (μm)</text>
<rect x="911.40" y="1194.10" width="41.80" height="23.80" fill="#6aa7fa" stroke="#000" stroke-width="1.8"/>
<rect x="911.40" y="1249.40" width="41.80" height="23.20" fill="#fe1f0f" stroke="#000" stroke-width="1.8"/>
<text x="964.60" y="1215.00" font-size="36" font-style="italic">Ffar4</text>
<text x="1050.20" y="1200.60" font-size="23.5" font-style="italic">+/+</text>
<text x="964.60" y="1272.00" font-size="36" font-style="italic">Ffar4</text>
<text x="1050.20" y="1257.60" font-size="23.5" font-style="italic">-/-</text>
</svg>
</body></html>
